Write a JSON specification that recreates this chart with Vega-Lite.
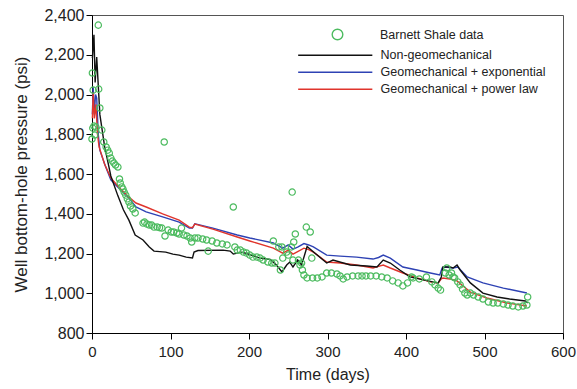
{
  "$schema": "https://vega.github.io/schema/vega-lite/v6.json",
  "width": 471,
  "height": 318,
  "autosize": {"type": "none"},
  "padding": {"left": 92, "top": 15, "right": 14, "bottom": 56},
  "background": "white",
  "config": {
    "view": {"stroke": "#555", "strokeWidth": 1},
    "font": "Liberation Sans",
    "axis": {
      "domainColor": "#000", "tickColor": "#000", "labelColor": "#222", "titleColor": "#222",
      "labelFont": "Liberation Sans", "titleFont": "Liberation Sans",
      "labelFontSize": 15, "titleFontSize": 16, "titleFontWeight": "normal",
      "grid": false, "tickSize": 6
    },
    "legend": {"labelFont": "Liberation Sans", "labelFontSize": 12.5, "labelColor": "#222", "padding": 0, "offset": 0, "labelLimit": 400}
  },
  "datasets": {
    "obs": [
      {"day":0,"psi":1776},{"day":0.5,"psi":2108},{"day":1,"psi":1831},{"day":1.5,"psi":2022},{"day":2.5,"psi":1841},{"day":3.5,"psi":1796},{"day":5,"psi":1836},{"day":8,"psi":2349},{"day":8.5,"psi":2027},{"day":10,"psi":1932},{"day":12.5,"psi":1821},{"day":15,"psi":1761},{"day":18,"psi":1736},{"day":20,"psi":1720},{"day":22,"psi":1705},{"day":24,"psi":1680},{"day":26,"psi":1665},{"day":28,"psi":1655},{"day":30,"psi":1645},{"day":33,"psi":1635},{"day":35,"psi":1575},{"day":36,"psi":1555},{"day":38,"psi":1535},{"day":39.5,"psi":1524},{"day":41,"psi":1509},{"day":43,"psi":1494},{"day":45,"psi":1475},{"day":47,"psi":1459},{"day":49,"psi":1439},{"day":52,"psi":1424},{"day":55,"psi":1404},{"day":65,"psi":1353},{"day":67,"psi":1358},{"day":70,"psi":1348},{"day":73,"psi":1343},{"day":76,"psi":1343},{"day":79,"psi":1333},{"day":83,"psi":1333},{"day":86,"psi":1330},{"day":89,"psi":1328},{"day":92,"psi":1761},{"day":93,"psi":1288},{"day":97,"psi":1318},{"day":101,"psi":1308},{"day":104,"psi":1308},{"day":108,"psi":1303},{"day":111,"psi":1298},{"day":114,"psi":1328},{"day":117,"psi":1293},{"day":121,"psi":1288},{"day":125,"psi":1278},{"day":127,"psi":1258},{"day":131,"psi":1278},{"day":135,"psi":1278},{"day":141,"psi":1273},{"day":146,"psi":1268},{"day":148,"psi":1212},{"day":153,"psi":1263},{"day":159,"psi":1253},{"day":166,"psi":1248},{"day":172,"psi":1243},{"day":180,"psi":1434},{"day":182,"psi":1233},{"day":185,"psi":1217},{"day":189,"psi":1217},{"day":193,"psi":1207},{"day":197,"psi":1202},{"day":201,"psi":1192},{"day":205,"psi":1182},{"day":210,"psi":1182},{"day":214,"psi":1177},{"day":218,"psi":1167},{"day":224,"psi":1157},{"day":229,"psi":1152},{"day":231,"psi":1263},{"day":233,"psi":1152},{"day":238,"psi":1233},{"day":240,"psi":1117},{"day":242,"psi":1233},{"day":243,"psi":1177},{"day":248,"psi":1207},{"day":250,"psi":1192},{"day":254,"psi":1233},{"day":255,"psi":1509},{"day":256,"psi":1167},{"day":257,"psi":1258},{"day":259,"psi":1298},{"day":263,"psi":1167},{"day":265,"psi":1142},{"day":267,"psi":1152},{"day":268,"psi":1117},{"day":270,"psi":1092},{"day":273,"psi":1333},{"day":274,"psi":1077},{"day":278,"psi":1308},{"day":280,"psi":1177},{"day":281,"psi":1077},{"day":287,"psi":1077},{"day":293,"psi":1082},{"day":299,"psi":1102},{"day":305,"psi":1102},{"day":312,"psi":1097},{"day":316,"psi":1087},{"day":320,"psi":1072},{"day":325,"psi":1082},{"day":332,"psi":1087},{"day":339,"psi":1087},{"day":344,"psi":1087},{"day":349,"psi":1087},{"day":355,"psi":1087},{"day":362,"psi":1087},{"day":369,"psi":1082},{"day":376,"psi":1077},{"day":383,"psi":1062},{"day":390,"psi":1052},{"day":396,"psi":1037},{"day":402,"psi":1052},{"day":407,"psi":1082},{"day":409,"psi":1077},{"day":417,"psi":1072},{"day":426,"psi":1082},{"day":433,"psi":1057},{"day":437,"psi":1042},{"day":441,"psi":1026},{"day":444,"psi":1016},{"day":450,"psi":1102},{"day":452,"psi":1127},{"day":455,"psi":1092},{"day":458,"psi":1102},{"day":460,"psi":1082},{"day":462,"psi":1077},{"day":466,"psi":1057},{"day":469,"psi":1042},{"day":472,"psi":1021},{"day":475,"psi":1001},{"day":478,"psi":991},{"day":482,"psi":1001},{"day":486,"psi":991},{"day":492,"psi":981},{"day":498,"psi":971},{"day":505,"psi":956},{"day":511,"psi":951},{"day":517,"psi":951},{"day":524,"psi":946},{"day":530,"psi":941},{"day":536,"psi":936},{"day":543,"psi":931},{"day":549,"psi":936},{"day":554,"psi":941},{"day":555,"psi":981}
    ],
    "sim": [
      {"model":"Geomechanical + exponential","day":0.5,"psi":1900},{"model":"Geomechanical + exponential","day":1.5,"psi":2037},{"model":"Geomechanical + exponential","day":3,"psi":1900},{"model":"Geomechanical + exponential","day":4.5,"psi":2000},{"model":"Geomechanical + exponential","day":6,"psi":1982},{"model":"Geomechanical + exponential","day":8,"psi":1800},{"model":"Geomechanical + exponential","day":10,"psi":1720},{"model":"Geomechanical + exponential","day":17,"psi":1640},{"model":"Geomechanical + exponential","day":24,"psi":1570},{"model":"Geomechanical + exponential","day":34,"psi":1530},{"model":"Geomechanical + exponential","day":47,"psi":1479},{"model":"Geomechanical + exponential","day":56,"psi":1434},{"model":"Geomechanical + exponential","day":69,"psi":1409},{"model":"Geomechanical + exponential","day":90,"psi":1384},{"model":"Geomechanical + exponential","day":111,"psi":1358},{"model":"Geomechanical + exponential","day":124,"psi":1328},{"model":"Geomechanical + exponential","day":128,"psi":1328},{"model":"Geomechanical + exponential","day":131,"psi":1350},{"model":"Geomechanical + exponential","day":154,"psi":1328},{"model":"Geomechanical + exponential","day":185,"psi":1293},{"model":"Geomechanical + exponential","day":201,"psi":1278},{"model":"Geomechanical + exponential","day":231,"psi":1253},{"model":"Geomechanical + exponential","day":243,"psi":1227},{"model":"Geomechanical + exponential","day":250,"psi":1243},{"model":"Geomechanical + exponential","day":256,"psi":1222},{"model":"Geomechanical + exponential","day":262,"psi":1232},{"model":"Geomechanical + exponential","day":270,"psi":1250},{"model":"Geomechanical + exponential","day":276,"psi":1243},{"model":"Geomechanical + exponential","day":282,"psi":1233},{"model":"Geomechanical + exponential","day":299,"psi":1192},{"model":"Geomechanical + exponential","day":316,"psi":1187},{"model":"Geomechanical + exponential","day":337,"psi":1182},{"model":"Geomechanical + exponential","day":358,"psi":1172},{"model":"Geomechanical + exponential","day":365,"psi":1180},{"model":"Geomechanical + exponential","day":371,"psi":1192},{"model":"Geomechanical + exponential","day":380,"psi":1177},{"model":"Geomechanical + exponential","day":396,"psi":1132},{"model":"Geomechanical + exponential","day":414,"psi":1117},{"model":"Geomechanical + exponential","day":431,"psi":1102},{"model":"Geomechanical + exponential","day":443,"psi":1092},{"model":"Geomechanical + exponential","day":446,"psi":1127},{"model":"Geomechanical + exponential","day":450,"psi":1132},{"model":"Geomechanical + exponential","day":460,"psi":1127},{"model":"Geomechanical + exponential","day":466,"psi":1132},{"model":"Geomechanical + exponential","day":478,"psi":1082},{"model":"Geomechanical + exponential","day":498,"psi":1052},{"model":"Geomechanical + exponential","day":524,"psi":1026},{"model":"Geomechanical + exponential","day":554,"psi":1001},
      {"model":"Geomechanical + power law","day":0.5,"psi":1880},{"model":"Geomechanical + power law","day":1.5,"psi":2010},{"model":"Geomechanical + power law","day":3,"psi":1880},{"model":"Geomechanical + power law","day":5,"psi":1950},{"model":"Geomechanical + power law","day":7,"psi":1800},{"model":"Geomechanical + power law","day":9,"psi":1736},{"model":"Geomechanical + power law","day":16,"psi":1650},{"model":"Geomechanical + power law","day":24,"psi":1580},{"model":"Geomechanical + power law","day":34,"psi":1535},{"model":"Geomechanical + power law","day":47,"psi":1484},{"model":"Geomechanical + power law","day":56,"psi":1454},{"model":"Geomechanical + power law","day":69,"psi":1434},{"model":"Geomechanical + power law","day":90,"psi":1399},{"model":"Geomechanical + power law","day":111,"psi":1368},{"model":"Geomechanical + power law","day":124,"psi":1333},{"model":"Geomechanical + power law","day":128,"psi":1330},{"model":"Geomechanical + power law","day":131,"psi":1348},{"model":"Geomechanical + power law","day":154,"psi":1323},{"model":"Geomechanical + power law","day":185,"psi":1283},{"model":"Geomechanical + power law","day":201,"psi":1263},{"model":"Geomechanical + power law","day":231,"psi":1227},{"model":"Geomechanical + power law","day":243,"psi":1202},{"model":"Geomechanical + power law","day":250,"psi":1217},{"model":"Geomechanical + power law","day":256,"psi":1197},{"model":"Geomechanical + power law","day":262,"psi":1210},{"model":"Geomechanical + power law","day":270,"psi":1227},{"model":"Geomechanical + power law","day":276,"psi":1220},{"model":"Geomechanical + power law","day":282,"psi":1207},{"model":"Geomechanical + power law","day":299,"psi":1157},{"model":"Geomechanical + power law","day":316,"psi":1152},{"model":"Geomechanical + power law","day":337,"psi":1142},{"model":"Geomechanical + power law","day":358,"psi":1127},{"model":"Geomechanical + power law","day":365,"psi":1135},{"model":"Geomechanical + power law","day":371,"psi":1142},{"model":"Geomechanical + power law","day":380,"psi":1127},{"model":"Geomechanical + power law","day":396,"psi":1102},{"model":"Geomechanical + power law","day":414,"psi":1077},{"model":"Geomechanical + power law","day":431,"psi":1057},{"model":"Geomechanical + power law","day":441,"psi":1052},{"model":"Geomechanical + power law","day":445,"psi":1072},{"model":"Geomechanical + power law","day":447,"psi":1077},{"model":"Geomechanical + power law","day":456,"psi":1072},{"model":"Geomechanical + power law","day":465,"psi":1062},{"model":"Geomechanical + power law","day":482,"psi":1006},{"model":"Geomechanical + power law","day":503,"psi":976},{"model":"Geomechanical + power law","day":529,"psi":951},{"model":"Geomechanical + power law","day":554,"psi":936},
      {"model":"Non-geomechanical","day":0.5,"psi":2183},{"model":"Non-geomechanical","day":2.5,"psi":2300},{"model":"Non-geomechanical","day":4,"psi":2060},{"model":"Non-geomechanical","day":6,"psi":2188},{"model":"Non-geomechanical","day":10,"psi":1900},{"model":"Non-geomechanical","day":16,"psi":1740},{"model":"Non-geomechanical","day":24,"psi":1590},{"model":"Non-geomechanical","day":33,"psi":1490},{"model":"Non-geomechanical","day":40,"psi":1420},{"model":"Non-geomechanical","day":47,"psi":1368},{"model":"Non-geomechanical","day":55,"psi":1293},{"model":"Non-geomechanical","day":65,"psi":1268},{"model":"Non-geomechanical","day":73,"psi":1233},{"model":"Non-geomechanical","day":79,"psi":1212},{"model":"Non-geomechanical","day":94,"psi":1207},{"model":"Non-geomechanical","day":103,"psi":1197},{"model":"Non-geomechanical","day":111,"psi":1192},{"model":"Non-geomechanical","day":120,"psi":1182},{"model":"Non-geomechanical","day":128,"psi":1178},{"model":"Non-geomechanical","day":130,"psi":1207},{"model":"Non-geomechanical","day":135,"psi":1215},{"model":"Non-geomechanical","day":167,"psi":1217},{"model":"Non-geomechanical","day":176,"psi":1212},{"model":"Non-geomechanical","day":180,"psi":1197},{"model":"Non-geomechanical","day":190,"psi":1207},{"model":"Non-geomechanical","day":197,"psi":1200},{"model":"Non-geomechanical","day":214,"psi":1177},{"model":"Non-geomechanical","day":227,"psi":1170},{"model":"Non-geomechanical","day":235,"psi":1142},{"model":"Non-geomechanical","day":242,"psi":1107},{"model":"Non-geomechanical","day":248,"psi":1142},{"model":"Non-geomechanical","day":252,"psi":1157},{"model":"Non-geomechanical","day":256,"psi":1132},{"model":"Non-geomechanical","day":262,"psi":1167},{"model":"Non-geomechanical","day":267,"psi":1142},{"model":"Non-geomechanical","day":274,"psi":1235},{"model":"Non-geomechanical","day":280,"psi":1215},{"model":"Non-geomechanical","day":299,"psi":1152},{"model":"Non-geomechanical","day":307,"psi":1167},{"model":"Non-geomechanical","day":329,"psi":1142},{"model":"Non-geomechanical","day":350,"psi":1137},{"model":"Non-geomechanical","day":363,"psi":1132},{"model":"Non-geomechanical","day":371,"psi":1167},{"model":"Non-geomechanical","day":380,"psi":1152},{"model":"Non-geomechanical","day":392,"psi":1117},{"model":"Non-geomechanical","day":405,"psi":1082},{"model":"Non-geomechanical","day":422,"psi":1067},{"model":"Non-geomechanical","day":434,"psi":1057},{"model":"Non-geomechanical","day":441,"psi":1052},{"model":"Non-geomechanical","day":445,"psi":1082},{"model":"Non-geomechanical","day":447,"psi":1132},{"model":"Non-geomechanical","day":456,"psi":1132},{"model":"Non-geomechanical","day":460,"psi":1127},{"model":"Non-geomechanical","day":465,"psi":1142},{"model":"Non-geomechanical","day":469,"psi":1117},{"model":"Non-geomechanical","day":482,"psi":1052},{"model":"Non-geomechanical","day":498,"psi":1001},{"model":"Non-geomechanical","day":516,"psi":981},{"model":"Non-geomechanical","day":532,"psi":971},{"model":"Non-geomechanical","day":552,"psi":961},{"model":"Non-geomechanical","day":555,"psi":951}
    ]
  },
  "encoding": {
    "x": {"field": "day", "type": "quantitative", "scale": {"domain": [0, 600], "nice": false},
      "axis": {"title": "Time (days)", "values": [0,100,200,300,400,500,600], "labelFlush": false, "labelPadding": 5, "titlePadding": 7}},
    "y": {"field": "psi", "type": "quantitative", "scale": {"domain": [800, 2400], "nice": false},
      "axis": {"title": "Well bottom-hole pressure (psi)", "titleFontSize": 17, "labelFontSize": 16, "values": [800,1000,1200,1400,1600,1800,2000,2200,2400], "format": ",d", "labelPadding": 2, "titlePadding": 13}}
  },
  "layer": [
    {
      "data": {"name": "sim"},
      "mark": {"type": "line", "strokeWidth": 1.4},
      "encoding": {
        "color": {"field": "model", "type": "nominal",
          "scale": {"domain": ["Non-geomechanical", "Geomechanical + exponential", "Geomechanical + power law"], "range": ["#111111", "#2e42b4", "#e0342c"]},
          "legend": {"title": null, "orient": "none", "legendX": 237, "legendY": 34, "symbolType": "M-10,0H10", "symbolSize": 55, "symbolStrokeWidth": 1.5, "labelOffset": 39, "rowPadding": 4}}
      }
    },
    {
      "data": {"name": "obs"},
      "transform": [{"calculate": "'Barnett Shale data'", "as": "src"}],
      "mark": {"type": "point", "filled": false, "color": "#4cbb5f", "size": 40, "strokeWidth": 1.2, "opacity": 1},
      "encoding": {
        "shape": {"field": "src", "type": "nominal", "scale": {"domain": ["Barnett Shale data"], "range": ["circle"]},
          "legend": {"title": null, "orient": "none", "legendX": 239, "legendY": 13, "symbolSize": 113, "symbolStrokeWidth": 1.4, "symbolStrokeColor": "#4cbb5f", "symbolFillColor": "transparent", "labelOffset": 36}}
      }
    }
  ]
}
